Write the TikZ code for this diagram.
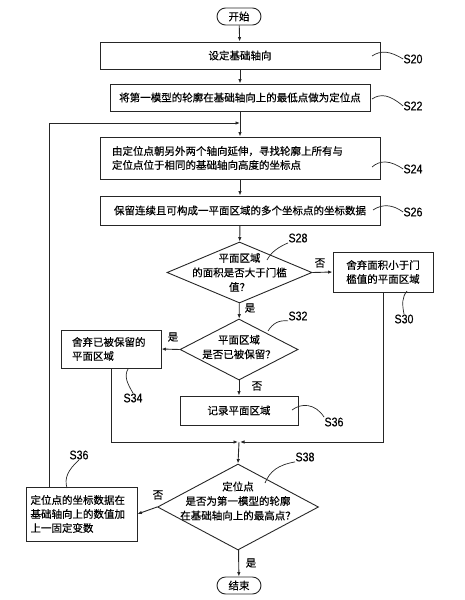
\documentclass[tikz,border=0pt]{standalone}
\usepackage{fontspec}
\setmainfont{Noto Sans CJK SC}[FakeBold=0.4]
\newfontfamily\labfont[FakeStretch=0.85,FakeBold=0.4]{Liberation Sans}
\usetikzlibrary{shapes.geometric,arrows.meta}
\begin{document}
\begin{tikzpicture}[x=1pt,y=-1pt,
  font=\fontsize{10.5}{14}\selectfont,
  line width=0.9pt, draw=black!85,
  box/.style={draw, rectangle, inner sep=0pt, align=center},
  term/.style={draw, rounded corners=8.5pt, minimum width=44pt, minimum height=17pt, inner sep=0pt},
  dia/.style={draw, diamond, inner sep=0pt},
  dtxt/.style={align=center, inner sep=0pt, font=\fontsize{10.5}{14.5}\selectfont},
  lab/.style={inner sep=0pt, font=\labfont\fontsize{12.5}{12.5}\selectfont},
  yn/.style={inner sep=0pt},
  arr/.style={-{Latex[length=4.5pt,width=3.5pt]}},
  lead/.style={line width=0.7pt}]
\useasboundingbox (0,0) rectangle (464,600);

% nodes
\node[term] (start) at (239,16.5) {开始};
\node[box, minimum width=280pt, minimum height=27pt] (s20) at (240,55.5) {设定基础轴向};
\node[box, minimum width=260pt, minimum height=27pt] (s22) at (240,97.5) {将第一模型的轮廓在基础轴向上的最低点做为定位点};
\node[box, minimum height=42pt, text width=256pt, align=left, inner xsep=12pt] (s24) at (240,158) {由定位点朝另外两个轴向延伸，寻找轮廓上所有与\\定位点位于相同的基础轴向高度的坐标点};
\node[box, minimum width=280pt, minimum height=29pt] (s26) at (240,210.5) {保留连续且可构成一平面区域的多个坐标点的坐标数据};
\node[dia, minimum width=145pt, minimum height=61pt] (s28) at (239.5,272.5) {};
\node[dtxt] (t28) at (239.5,272.5) {平面区域\\的面积是否大于门槛\\值？};
\node[box, minimum width=100pt, minimum height=40pt] (s30) at (383,272) {舍弃面积小于门\\槛值的平面区域};
\node[dia, minimum width=118pt, minimum height=61pt] (s32) at (239,349.5) {};
\node[dtxt] (t32) at (239,347) {平面区域\\是否已被保留？};
\node[box, minimum height=38pt, text width=78pt, align=left, inner xsep=11pt] (s34) at (111,349) {舍弃已被保留的\\平面区域};
\node[box, minimum width=118pt, minimum height=29pt] (s36) at (239,410.5) {记录平面区域};
\coordinate (m) at (239,442);
\node[dia, minimum width=161pt, minimum height=86pt] (s38) at (238,507) {};
\node[dtxt] (t38) at (238,501) {定位点\\是否为第一模型的轮廓\\在基础轴向上的最高点？};
\node[box, minimum height=54pt, text width=102pt, align=left, inner xsep=4.5pt] (l36) at (81.5,514) {定位点的坐标数据在\\基础轴向上的数值加\\上一固定变数};
\node[term] (end) at (239,585.5) {结束};

% connectors
\draw[arr] (start) -- (s20);
\draw[arr] (s20) -- (s22);
\draw[arr] (s22) -- (s24);
\draw[arr] (s24) -- (s26);
\draw[arr] (s26) -- (s28);
\draw[arr] (s28.east) -- (s30.west);
\draw[arr] (s28) -- (s32);
\draw[arr] (s32.west) -- (s34.east);
\draw[arr] (s32) -- (s36);
\draw[arr] (s34.south) |- ([xshift=-1pt]m);
\draw[arr] (s30.south) |- ([xshift=1pt]m);
\draw[arr] (m) -- (s38.north);
\draw[arr] (s38.west) -- (l36.east);
\draw[arr] (s38) -- (end);
\coordinate (lp) at (49,123);
\draw[arr] (l36.north -| lp) -- (lp) -- (s22.south |- lp);

% yes / no labels
\node[yn] (n28) at (320,263) {否};
\node[yn] (y28) at (250,308) {是};
\node[yn] (y32) at (173,337) {是};
\node[yn] (n32) at (257,386) {否};
\node[yn] (n38) at (158,495) {否};
\node[yn] (y38) at (251,563) {是};

% step labels and leaders
\node[lab] (L20) at (413,59) {S20};
\draw[lead] (372,56) .. controls (381,50) and (390,51) .. (L20.west);
\node[lab] (L22) at (413,106) {S22};
\draw[lead] (372,99) .. controls (381,93) and (390,95) .. (L22.west);
\node[lab] (L24) at (413,169) {S24};
\draw[lead] (372,167) .. controls (380,160) and (390,160) .. (L24.west);
\node[lab] (L26) at (413,212) {S26};
\draw[lead] (373,210) .. controls (382,204) and (392,204) .. (L26.west);
\node[lab] (L28) at (298,238) {S28};
\draw[lead] (267,260) .. controls (272,251) and (279,247) .. (L28.south west);
\node[lab] (L30) at (404,319) {S30};
\draw[lead] (407,291) .. controls (402,297) and (402,304) .. (L30.north);
\node[lab] (L32) at (298,316) {S32};
\draw[lead] (268,331) .. controls (273,323) and (279,320) .. (L32.south west);
\node[lab] (L34) at (133,398) {S34};
\draw[lead] (128,369) .. controls (124,376) and (127,383) .. (L34.north);
\node[lab] (L36) at (334,422) {S36};
\draw[lead] (292,410) .. controls (301,403) and (315,403) .. (L36.north west);
\node[lab] (L38) at (305,457) {S38};
\draw[lead] (265,483) .. controls (270,471) and (278,465) .. (L38.south west);
\node[lab] (L36b) at (79,455) {S36};
\draw[lead] (67,488) .. controls (64,478) and (68,470) .. (L36b.south);
\end{tikzpicture}
\end{document}
